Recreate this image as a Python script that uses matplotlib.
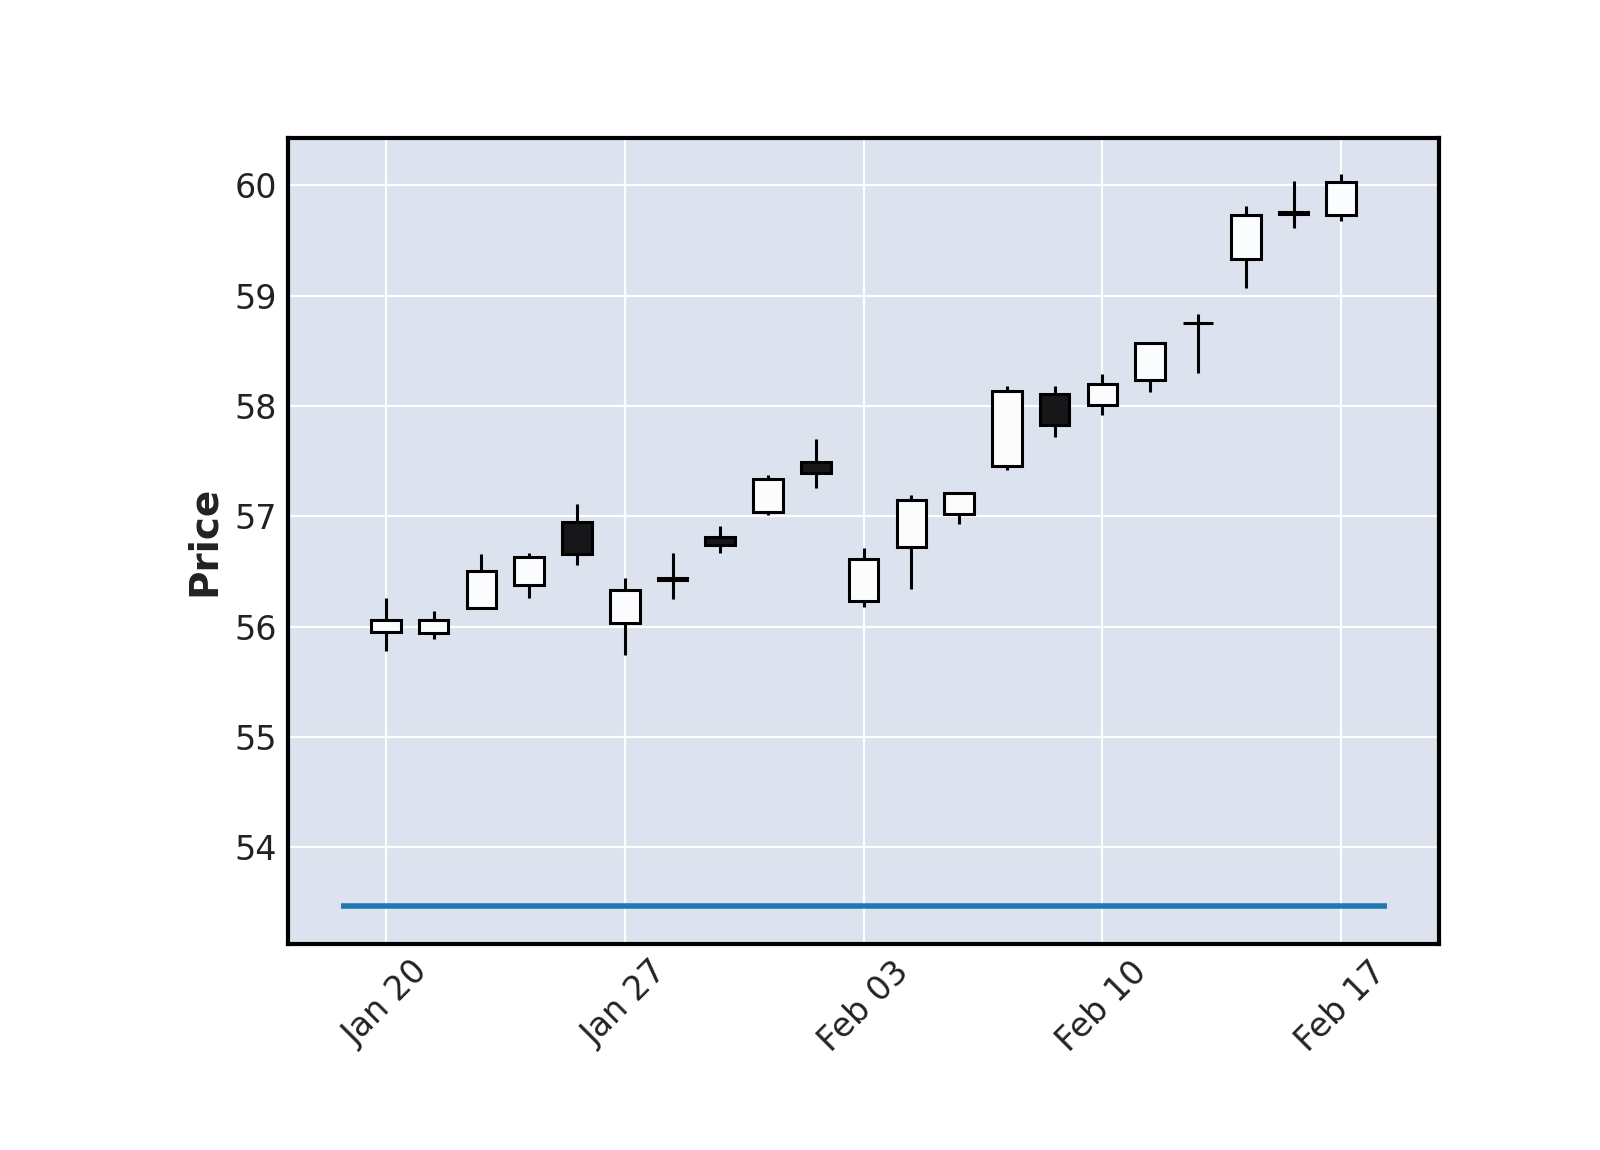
import matplotlib
matplotlib.use("Agg")
import matplotlib.pyplot as plt
from matplotlib.patches import Rectangle

# daily OHLC, one entry per trading day
dates = ["Jan 20", "Jan 21", "Jan 22", "Jan 23", "Jan 24",
         "Jan 27", "Jan 28", "Jan 29", "Jan 30", "Jan 31",
         "Feb 03", "Feb 04", "Feb 05", "Feb 06", "Feb 07",
         "Feb 10", "Feb 11", "Feb 12", "Feb 13", "Feb 14",
         "Feb 17"]
opens = [55.95, 55.94, 56.17, 56.38, 56.95, 56.03, 56.44, 56.81, 57.04, 57.49,
         56.23, 56.72, 57.02, 57.46, 58.11, 58.01, 58.24, 58.75, 59.33, 59.76,
         59.73]
highs = [56.26, 56.14, 56.66, 56.67, 57.11, 56.44, 56.67, 56.91, 57.37, 57.70,
         56.71, 57.19, 57.21, 58.18, 58.18, 58.29, 58.58, 58.83, 59.81, 60.04,
         60.10]
lows = [55.78, 55.89, 56.17, 56.26, 56.56, 55.74, 56.25, 56.67, 57.01, 57.26,
        56.18, 56.34, 56.93, 57.42, 57.72, 57.92, 58.13, 58.30, 59.07, 59.61,
        59.68]
closes = [56.06, 56.06, 56.50, 56.63, 56.66, 56.33, 56.42, 56.74, 57.34, 57.39,
          56.61, 57.15, 57.21, 58.14, 57.83, 58.20, 58.57, 58.75, 59.73, 59.74,
          60.03]
line_level = 53.47
tick_every = 5

up_color = "#fbfcfe"
down_color = "#17171a"

fig = plt.figure(figsize=(8, 5.75), dpi=200)
ax = fig.add_axes([0.18, 0.179, 0.7195, 0.701])
ax.set_facecolor("#dce2ee")

w = 0.62
for i in range(len(dates)):
    o, h, l, c = opens[i], highs[i], lows[i], closes[i]
    ax.vlines(i, l, h, color="black", linewidth=1.1, zorder=2)
    if abs(c - o) < 1e-9:
        ax.hlines(o, i - w / 2, i + w / 2, color="black", linewidth=1.1, zorder=3)
        continue
    fc = up_color if c > o else down_color
    ax.add_patch(Rectangle((i - w / 2, min(o, c)), w, abs(c - o),
                           facecolor=fc, edgecolor="black", linewidth=1.1, zorder=3))

ax.hlines(line_level, -0.95, len(dates) - 0.05, color="#1f77b4", linewidth=2.0, zorder=2)

ax.set_xlim(-2.05, 22.05)
ax.set_ylim(53.12, 60.43)
ax.set_xticks(range(0, len(dates), tick_every))
ax.set_xticklabels(dates[::tick_every], rotation=45, ha="center")
ax.set_yticks(range(54, 61))
ax.grid(True, color="white", linewidth=0.8, zorder=0)
ax.set_axisbelow(True)
ax.tick_params(length=0, labelsize=12, colors="#222222", pad=4)
for s in ax.spines.values():
    s.set_linewidth(1.5)
    s.set_color("black")
ax.set_ylabel("Price", fontsize=14, fontweight="bold", color="#222222")

fig.savefig("out.png", dpi=200)
